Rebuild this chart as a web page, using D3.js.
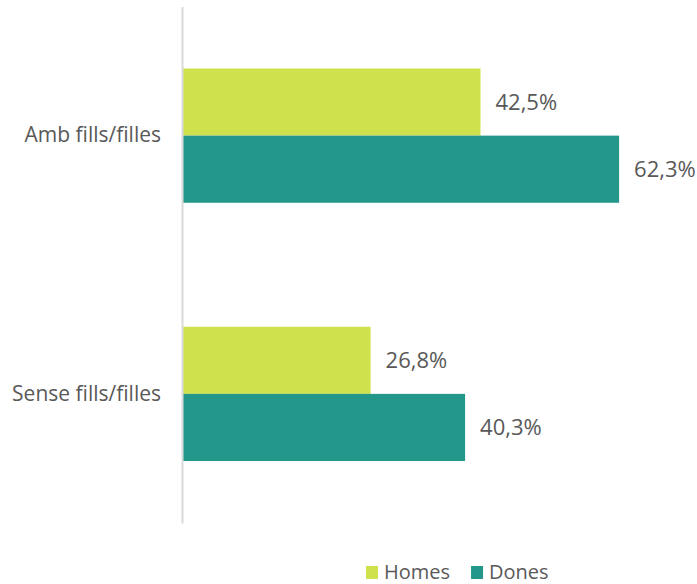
<!DOCTYPE html>
<html>
<head>
<meta charset="utf-8">
<script src="https://cdn.jsdelivr.net/npm/d3@7"></script>
<style>
  html, body { margin: 0; padding: 0; background: #ffffff; }
  svg { display: block; font-family: "Open Sans", sans-serif; }
</style>
</head>
<body>
<svg id="chart" width="697" height="584"></svg>
<script>
// Categories, series and values (percent)
const categories = ["Amb fills/filles", "Sense fills/filles"];
const seriesNames = ["Homes", "Dones"];
const homesValues = [42.5, 26.8];
const donesValues = [62.3, 40.3];
const seriesColors = ["#D0E14E", "#23988A"];

const valuesBySeries = { Homes: homesValues, Dones: donesValues };
const rows = categories.map((c, i) => ({
  category: c,
  values: seriesNames.map(s => ({ series: s, value: valuesBySeries[s][i] }))
}));

const svg = d3.select("#chart");
const textColor = "#595959";
const fmt = v => d3.format(".1f")(v).replace(".", ",") + "%";

// Scales
const x = d3.scaleLinear().domain([0, 70]).range([183, 673]);
const y = d3.scaleBand().domain(categories).range([6.5, 523])
  .paddingInner(0.48).paddingOuter(0.24);
const ySub = d3.scaleBand().domain(seriesNames).range([0, y.bandwidth()]);
const color = d3.scaleOrdinal().domain(seriesNames).range(seriesColors);

// Bars
const groups = svg.append("g").selectAll("g.cat")
  .data(rows).join("g")
  .attr("class", "cat")
  .attr("transform", d => `translate(0,${y(d.category)})`);

groups.selectAll("rect")
  .data(d => d.values).join("rect")
  .attr("x", x(0))
  .attr("y", d => ySub(d.series))
  .attr("width", d => x(d.value) - x(0))
  .attr("height", ySub.bandwidth())
  .attr("fill", d => color(d.series));

// Value labels
groups.selectAll("text.val")
  .data(d => d.values).join("text")
  .attr("class", "val")
  .attr("x", d => x(d.value) + 15)
  .attr("y", d => ySub(d.series) + ySub.bandwidth() / 2)
  .attr("dy", "0.36em")
  .attr("fill", textColor)
  .style("font-size", "22px")
  .text(d => fmt(d.value));

// Category axis
const axis = svg.append("g")
  .attr("transform", "translate(182,0)")
  .call(d3.axisLeft(y).tickSize(0).tickSizeOuter(0).tickPadding(21));
axis.select(".domain").attr("stroke", "#d9d9d9").attr("stroke-width", 2);
axis.selectAll(".tick text")
  .attr("fill", textColor)
  .style("font-size", "21px")
  .style("font-family", "'Open Sans', sans-serif");

// Legend
const legend = svg.append("g").attr("transform", "translate(366,566)");
let cursor = 0;
seriesNames.forEach(s => {
  const item = legend.append("g").attr("transform", `translate(${cursor},0)`);
  item.append("rect").attr("width", 12).attr("height", 13).attr("fill", color(s));
  const t = item.append("text")
    .attr("x", 18).attr("y", 13)
    .attr("fill", textColor)
    .style("font-size", "20px")
    .text(s);
  cursor += 18 + t.node().getComputedTextLength() + 21;
});
</script>
</body>
</html>
